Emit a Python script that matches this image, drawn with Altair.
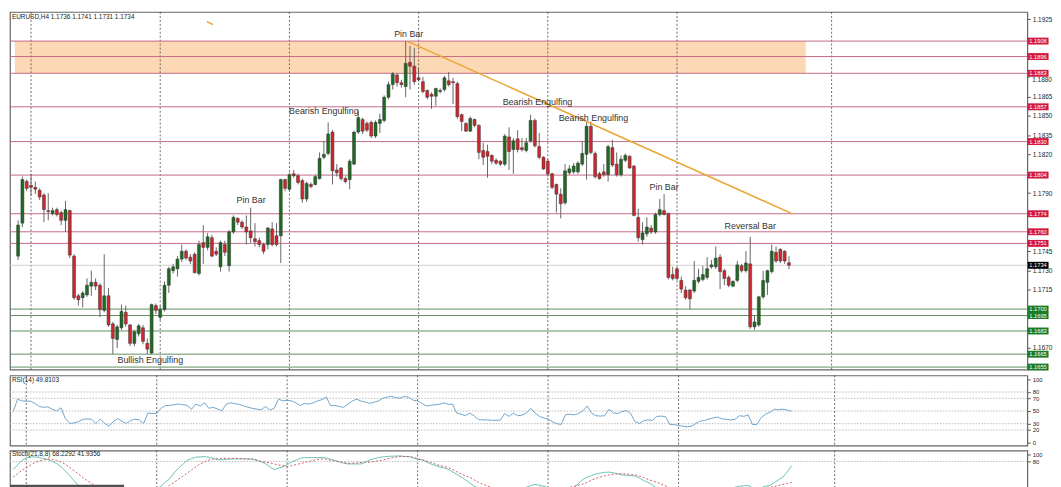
import altair as alt
import pandas as pd

# ---------------- data ----------------
opens = [1.17411,1.17667,1.17990,1.17960,1.17945,1.17922,1.17885,1.17764,1.17742,1.17772,
1.17749,1.17689,1.17764,1.17411,1.17103,1.17088,1.17110,1.17178,1.17208,1.17185,
1.16990,1.17103,1.16885,1.16764,1.16855,1.16975,1.16877,1.16734,1.16809,1.16855,
1.16734,1.16659,1.17027,1.16937,1.16997,1.17185,1.17298,1.17313,1.17388,1.17449,
1.17403,1.17426,1.17276,1.17516,1.17479,1.17554,1.17449,1.17328,1.17501,1.17336,
1.17599,1.17704,1.17674,1.17637,1.17607,1.17546,1.17531,1.17501,1.17501,1.17622,
1.17569,1.17569,1.18005,1.17930,1.18050,1.18035,1.17998,1.17855,1.17967,1.17967,
1.18013,1.18178,1.18208,1.18374,1.18080,1.18095,1.18013,1.18005,1.18125,1.18374,
1.18471,1.18441,1.18449,1.18343,1.18441,1.18464,1.18644,1.18742,1.18817,1.18757,
1.18727,1.18915,1.18885,1.18795,1.18765,1.18697,1.18667,1.18652,1.18689,1.18704,
1.18772,1.18765,1.18750,1.18509,1.18441,1.18381,1.18471,1.18426,1.18231,1.18223,
1.18193,1.18155,1.18148,1.18125,1.18336,1.18238,1.18321,1.18253,1.18231,1.18306,
1.18464,1.18261,1.18178,1.18148,1.18050,1.17967,1.17892,1.17825,1.18058,1.18065,
1.18065,1.18125,1.18201,1.18419,1.18208,1.18050,1.18065,1.18043,1.18253,1.18125,
1.18043,1.18155,1.18186,1.18110,1.17712,1.17539,1.17584,1.17629,1.17599,1.17734,
1.17764,1.17742,1.17268,1.17313,1.17223,1.17148,1.17148,1.17140,1.17215,1.17230,
1.17246,1.17328,1.17328,1.17403,1.17298,1.17246,1.17178,1.17223,1.17336,1.17298,
1.17351,1.16862,1.16877,1.17095,1.17208,1.17291,1.17441,1.17464,1.17449,1.17360]

highs = [1.17689,1.18028,1.18005,1.18050,1.17990,1.17937,1.17900,1.17900,1.17787,1.17787,
1.17764,1.17840,1.17772,1.17426,1.17118,1.17140,1.17238,1.17298,1.17238,1.17200,
1.17426,1.17163,1.16900,1.16877,1.17035,1.17027,1.16885,1.16839,1.16885,1.16877,
1.16772,1.17043,1.17043,1.17027,1.17215,1.17328,1.17351,1.17411,1.17501,1.17464,
1.17426,1.17441,1.17531,1.17652,1.17591,1.17576,1.17479,1.17531,1.17531,1.17614,
1.17727,1.17712,1.17689,1.17727,1.17787,1.17667,1.17554,1.17516,1.17637,1.17674,
1.17667,1.18013,1.18013,1.18058,1.18080,1.18050,1.18013,1.17990,1.17983,1.18043,
1.18216,1.18306,1.18449,1.18389,1.18125,1.18103,1.18028,1.18163,1.18381,1.18539,
1.18486,1.18456,1.18464,1.18464,1.18516,1.18659,1.18765,1.18840,1.18832,1.18780,
1.19080,1.19043,1.19028,1.18870,1.18802,1.18704,1.18682,1.18719,1.18712,1.18810,
1.18840,1.18795,1.18765,1.18516,1.18449,1.18494,1.18479,1.18434,1.18291,1.18276,
1.18201,1.18170,1.18155,1.18359,1.18411,1.18328,1.18389,1.18328,1.18328,1.18509,
1.18479,1.18366,1.18186,1.18163,1.18058,1.17975,1.17937,1.18125,1.18118,1.18133,
1.18148,1.18306,1.18449,1.18456,1.18223,1.18065,1.18125,1.18276,1.18313,1.18216,
1.18193,1.18208,1.18193,1.18118,1.17779,1.17674,1.17712,1.17652,1.17749,1.17855,
1.17892,1.17749,1.17328,1.17328,1.17253,1.17178,1.17155,1.17373,1.17313,1.17336,
1.17403,1.17381,1.17486,1.17426,1.17313,1.17261,1.17223,1.17373,1.17351,1.17449,
1.17561,1.16952,1.17103,1.17298,1.17306,1.17501,1.17486,1.17471,1.17456,1.17410]

lows = [1.17381,1.17637,1.17915,1.17877,1.17892,1.17847,1.17674,1.17689,1.17727,1.17719,
1.17652,1.17599,1.17396,1.17073,1.17027,1.17012,1.17095,1.17103,1.17148,1.16937,
1.16975,1.16862,1.16651,1.16697,1.16839,1.16862,1.16712,1.16712,1.16787,1.16727,
1.16651,1.16651,1.16960,1.16915,1.16982,1.17125,1.17276,1.17253,1.17366,1.17381,
1.17351,1.17276,1.17261,1.17351,1.17456,1.17403,1.17411,1.17291,1.17411,1.17291,
1.17584,1.17652,1.17622,1.17501,1.17516,1.17486,1.17479,1.17426,1.17464,1.17486,
1.17486,1.17358,1.17915,1.17915,1.18020,1.17967,1.17825,1.17832,1.17937,1.17960,
1.18005,1.18163,1.18193,1.17967,1.18028,1.17998,1.17975,1.17930,1.18118,1.18359,
1.18359,1.18374,1.18328,1.18328,1.18366,1.18449,1.18629,1.18704,1.18727,1.18719,
1.18644,1.18704,1.18742,1.18765,1.18674,1.18629,1.18554,1.18577,1.18674,1.18689,
1.18727,1.18592,1.18479,1.18381,1.18374,1.18374,1.18411,1.18163,1.18118,1.18020,
1.18125,1.18118,1.18110,1.18110,1.18080,1.18050,1.18216,1.18223,1.18216,1.18291,
1.18253,1.18163,1.18080,1.18028,1.17930,1.17749,1.17704,1.17810,1.18043,1.18050,
1.18050,1.18110,1.18005,1.18201,1.18013,1.18005,1.18028,1.17990,1.18103,1.18028,
1.18028,1.18140,1.18088,1.17719,1.17524,1.17501,1.17561,1.17584,1.17584,1.17719,
1.17727,1.17230,1.17223,1.17223,1.17125,1.17073,1.16997,1.17125,1.17200,1.17215,
1.17230,1.17313,1.17313,1.17155,1.17185,1.17170,1.17170,1.17208,1.17283,1.17283,
1.16847,1.16839,1.16862,1.17080,1.17110,1.17276,1.17358,1.17358,1.17351,1.17310]

closes = [1.17652,1.18005,1.17937,1.17945,1.17930,1.17870,1.17772,1.17757,1.17764,1.17734,
1.17689,1.17772,1.17419,1.17088,1.17073,1.17125,1.17185,1.17208,1.17178,1.16997,
1.17103,1.16877,1.16772,1.16862,1.16982,1.16885,1.16734,1.16824,1.16870,1.16749,
1.16689,1.17035,1.16990,1.16997,1.17185,1.17313,1.17328,1.17388,1.17449,1.17396,
1.17373,1.17283,1.17501,1.17479,1.17561,1.17411,1.17426,1.17516,1.17441,1.17599,
1.17712,1.17674,1.17637,1.17599,1.17554,1.17524,1.17501,1.17449,1.17629,1.17501,
1.17501,1.18005,1.17937,1.18043,1.18035,1.17983,1.17855,1.17975,1.17952,1.18028,
1.18170,1.18201,1.18359,1.18073,1.18058,1.18013,1.17990,1.18148,1.18374,1.18486,
1.18381,1.18389,1.18343,1.18449,1.18471,1.18644,1.18742,1.18825,1.18757,1.18742,
1.18907,1.18885,1.18765,1.18780,1.18689,1.18644,1.18652,1.18712,1.18697,1.18795,
1.18742,1.18757,1.18494,1.18456,1.18381,1.18479,1.18426,1.18216,1.18178,1.18186,
1.18148,1.18133,1.18125,1.18343,1.18223,1.18306,1.18238,1.18238,1.18291,1.18464,
1.18268,1.18178,1.18088,1.18050,1.17945,1.17892,1.17817,1.18073,1.18088,1.18110,
1.18133,1.18208,1.18419,1.18216,1.18028,1.18013,1.18043,1.18261,1.18118,1.18043,
1.18163,1.18193,1.18095,1.17727,1.17554,1.17591,1.17637,1.17599,1.17734,1.17772,
1.17734,1.17246,1.17238,1.17238,1.17155,1.17088,1.17080,1.17223,1.17246,1.17268,
1.17313,1.17343,1.17396,1.17291,1.17238,1.17185,1.17215,1.17343,1.17298,1.17358,
1.16862,1.16900,1.17095,1.17223,1.17298,1.17449,1.17373,1.17373,1.17373,1.17340]

rsi = [49,68.7,66,65.5,65.6,62,57,56,56.5,52.8,
50,55,38,30.3,31.3,33,37,37.4,37,30.3,
37,31,26,33,38,34,30.3,35,37,36,
30.3,46.7,46,46,54.3,58.5,59,60,61,60,
59,52.8,61,58,63,54.3,55.9,53,50.3,61,
63,61.5,60.5,58,56,54.3,53,51.8,57,51.8,
54,68.7,66,67,66,63,58.5,62,61,63,
66,68,72,58.5,59,57,55.9,61,66,68.7,
65.6,64,62,64,66,70,72,73.3,71,70.5,
73.3,71.3,67,66,62,58,59,60,60.5,63,
60.5,61,46.7,45,42.6,46.7,42.6,36.4,36,35.9,
35.5,35.4,35.4,46,41.5,46.7,42.6,43.5,46.7,54.3,
46.7,41.5,39,37.4,33,30,28.7,44,45,44,
46,50.3,58,46.7,42.6,42,42.6,52.8,47,46,
49.2,50.8,46,33,30.3,34.7,36,35,41.5,42,
41,28.7,28.5,27.2,26,25,26,30.3,34,35,
37.5,39,40.5,37.4,37,35.9,37,42.6,41.5,44,
28.7,28.7,39.6,45,48,52.8,52,52.8,51.5,49.8]

stoch_main = [57,70,83,90,93,93,91,88,85,80,
74,65,53,40,26,12,4,1,1,1,
1,1,1,1,1,1,1,1,1,1,
1,1,1,2,10,22,31,48,61,72,
83,88,92,93,94,92,89,85,85,86,
87,87,87,87,87,87,84,79,74,65,
57,61,65,71,78,84,89,91,91,91,
91,91,90,86,83,79,75,73,73,73,
73,78,84,88,91,93,94,95,95,96,
94,94,90,86,85,79,73,69,65,62,
58,51,44,36,28,19,10,5,1,1,
1,1,1,1,1,1,1,4,7,12,
15,13,10,6,3,1,1,1,1,5,
18,29,36,40,45,47,49,50,48,45,
42,41,40,39,33,26,21,13,4,1,
1,1,1,1,1,1,1,1,1,1,
1,1,1,1,1,4,7,10,11,12,
6,2,6,10,12,20,28,36,50,68.2]

stoch_signal = [36,45,55,62,70,77,81,85,87,86,
83,79,72,63,54,45,35,26,18,10,
4,1,1,1,1,1,1,1,1,1,
1,1,1,1,1.5,4,13,21,30,38,
47,56,65,73,79,84,87,88,89,89,
89,89,88,88,87,86,83,80,78,76,
73,70,68,66,68,71,74,77,80,83,
86,87,86,84,81,79,77,75,75,76,
77,78,78,80,82,84,87,90,92,94,
94,94,92,88,85,81,77,73,69,66,
63,57,51,45,39,35,28,21,15,11,
6,3,1,1,1,1,1,1,1,1,
4,7,7,6,6,5,5,5,7,10,
13,16,21,27,32,36,39,42,44,45,
45,45,43,42,39,34,29,25,21,16,
11,5,2,1,1,1,1,1,1,1,
1,1,1,1,1,1,1,2,2,3,
4,5,5,6,7,9,12,15,18,21]

red_levels = [1.1908, 1.1896, 1.1883, 1.1857, 1.1830, 1.1804, 1.1774, 1.1760, 1.1751]
green_levels = [1.1700, 1.1695, 1.1683, 1.1665, 1.1655]
current_price = 1.1734
# axis labels that are not hidden behind the level boxes in the reference
price_ticks = [1.1670, 1.1715, 1.1730, 1.1745, 1.1790, 1.1820, 1.1835, 1.1850, 1.1865, 1.1925]
# a label that sits just under a level box
tight_tick = 1.1880
zone_low, zone_high, zone_end_bar = 1.1883, 1.1908, 182.9
grid_bars = [3, 33, 63, 93, 123, 153, 188.9]
trend_bars = [90.3, 179.7]
trend_prices = [1.19080, 1.17741]
dash_bars = [43.8, 45.3]
dash_prices = [1.19231, 1.19208]

notes = ["Pin Bar", "Bearish Engulfing", "Bearish Engulfing", "Bearish Engulfing",
         "Pin Bar", "Pin Bar", "Reversal Bar", "Bullish Engulfing"]
note_bars = [90.7, 71.0, 120.6, 133.6, 54.1, 150.0, 170.0, 30.7]
note_prices = [1.19133, 1.18539, 1.18607, 1.18486, 1.17847, 1.17945, 1.17644, 1.16606]

header = "EURUSD,H4  1.1736 1.1741 1.1731 1.1734"
rsi_label = "RSI(14) 49.8103"
stoch_label = "Stoch(21,8,8) 68.2292 41.9356"
rsi_ticks = [0, 20, 30, 50, 70, 80, 100]
rsi_grid = [20, 30, 50, 70, 80]
stoch_ticks = [80, 100]
stoch_grid = [80]
logo_bar_end, logo_low, logo_high = 25.5, 2, 14

# ---------------- layout ----------------
W = 1030
H_MAIN, H_RSI, H_STO = 362, 71, 39
X_DOMAIN = [-0.74, 233.2]
P_DOMAIN = [1.16531, 1.19306]
R_DOMAIN = [-4.6, 106.2]
S_DOMAIN = [2, 111]
FONT = "Liberation Sans"

n = len(opens)
df = pd.DataFrame({"i": list(range(n)), "o": opens, "h": highs, "l": lows, "c": closes})
up_df = df[df["c"] >= df["o"]]
down_df = df[df["c"] < df["o"]]

xsc = alt.Scale(domain=X_DOMAIN, nice=False, zero=False)
psc = alt.Scale(domain=P_DOMAIN, nice=False, zero=False)
rsc = alt.Scale(domain=R_DOMAIN, nice=False, zero=False)
ssc = alt.Scale(domain=S_DOMAIN, nice=False, zero=False)

p_axis = alt.Axis(orient="right", values=price_ticks, format=".4f", title=None, labelOverlap=False)
r_axis = alt.Axis(orient="right", values=rsi_ticks, format="d", title=None, labelOverlap=False,
                  labelFontSize=6)
s_axis = alt.Axis(orient="right", values=stoch_ticks, format="d", title=None, labelOverlap=False,
                  labelFontSize=6)


def X(f):
    return alt.X(f, type="quantitative", scale=xsc, axis=None)


def PY(f):
    return alt.Y(f, type="quantitative", scale=psc, axis=p_axis)


def RY(f):
    return alt.Y(f, type="quantitative", scale=rsc, axis=r_axis)


def SY(f):
    return alt.Y(f, type="quantitative", scale=ssc, axis=s_axis)


grid_df = pd.DataFrame({"g": grid_bars})

# main panel
zone = alt.Chart(pd.DataFrame({"x1": [X_DOMAIN[0]], "x2": [zone_end_bar],
                               "y1": [zone_low], "y2": [zone_high]})).mark_rect(
    color="#fdd8b5").encode(x=X("x1"), x2="x2", y=PY("y1"), y2="y2")

vgrid = alt.Chart(grid_df).mark_rule(color="#444444", strokeDash=[2, 2], strokeWidth=0.8).encode(x=X("g"))

cur_line = alt.Chart(pd.DataFrame({"p": [current_price]})).mark_rule(
    color="#d0d0d0", strokeWidth=1).encode(y=PY("p"))
red_lines = alt.Chart(pd.DataFrame({"p": red_levels})).mark_rule(
    color="#c56a85", strokeWidth=1).encode(y=PY("p"))
green_lines = alt.Chart(pd.DataFrame({"p": green_levels})).mark_rule(
    color="#5f8f5f", strokeWidth=1).encode(y=PY("p"))

wicks = alt.Chart(df).mark_rule(color="#666666", strokeWidth=1).encode(
    x=X("i"), y=PY("l"), y2="h")
up_bodies = alt.Chart(up_df).mark_bar(size=3, color="#1e6b22", stroke="#333333", strokeWidth=0.5).encode(
    x=X("i"), y=PY("o"), y2="c")
down_bodies = alt.Chart(down_df).mark_bar(size=3, color="#d0262e", stroke="#333333", strokeWidth=0.5).encode(
    x=X("i"), y=PY("o"), y2="c")

trend_df = pd.DataFrame({"b": trend_bars + dash_bars, "p": trend_prices + dash_prices,
                         "seg": ["t", "t", "d", "d"]})
trend = alt.Chart(trend_df).mark_line(color="#e9a632", strokeWidth=1.5).encode(
    x=X("b"), y=PY("p"), detail="seg:N")

notes_df = pd.DataFrame({"b": note_bars, "p": note_prices, "t": notes})
note_text = alt.Chart(notes_df).mark_text(font=FONT, fontSize=9, color="#333333",
                                          baseline="middle", align="center").encode(
    x=X("b"), y=PY("p"), text="t:N")

head_text = alt.Chart(pd.DataFrame({"t": [header]})).mark_text(
    font=FONT, fontSize=6.5, color="#222222", align="left", baseline="middle").encode(
    x=alt.value(2), y=alt.value(5), text="t:N")

tight_df = pd.DataFrame({"p": [tight_tick], "lab": [f"{tight_tick:.4f}"]})
tight_txt = alt.Chart(tight_df).mark_text(font=FONT, fontSize=6.5, color="#222222",
                                          align="left", baseline="middle", dy=2.5).encode(
    x=alt.value(W + 5), y=PY("p"), text="lab:N")
tight_tk = alt.Chart(tight_df).mark_tick(orient="horizontal", size=3, thickness=1, color="#555555").encode(
    x=alt.value(W + 1.5), y=PY("p"))


def level_boxes(values, fill):
    d = pd.DataFrame({"p": values, "lab": [f"{v:.4f}" for v in values]})
    box = alt.Chart(d).mark_tick(orient="horizontal", size=21, thickness=7, opacity=1, color=fill).encode(
        x=alt.value(W + 11), y=PY("p"))
    txt = alt.Chart(d).mark_text(font=FONT, fontSize=5.8, color="white",
                                 align="left", baseline="middle").encode(
        x=alt.value(W + 2), y=PY("p"), text="lab:N")
    return [box, txt]


boxes = (level_boxes(red_levels, "#d01a3e") + level_boxes(green_levels, "#1b7a24")
         + level_boxes([current_price], "#000000"))

main = alt.layer(zone, vgrid, cur_line, red_lines, green_lines, wicks, up_bodies, down_bodies, trend,
                 note_text, head_text, tight_tk, tight_txt, *boxes).properties(width=W, height=H_MAIN)

# RSI panel
rsi_df = pd.DataFrame({"i": list(range(n)), "v": rsi})
r_grid = alt.Chart(pd.DataFrame({"v": rsi_grid})).mark_rule(
    color="#bbbbbb", strokeDash=[1.5, 1.5], strokeWidth=1).encode(y=RY("v"))
r_line = alt.Chart(rsi_df).mark_line(color="#6fa6cb", strokeWidth=1).encode(x=X("i"), y=RY("v"))
r_txt = alt.Chart(pd.DataFrame({"t": [rsi_label]})).mark_text(
    font=FONT, fontSize=6.5, color="#222222", align="left", baseline="middle").encode(
    x=alt.value(2), y=alt.value(5), text="t:N")
rsi_panel = alt.layer(r_grid, vgrid, r_line, r_txt).properties(width=W, height=H_RSI)

# Stochastic panel
sto_df = pd.DataFrame({"i": list(range(n)), "m": stoch_main, "s": stoch_signal})
s_grid = alt.Chart(pd.DataFrame({"v": stoch_grid})).mark_rule(
    color="#bbbbbb", strokeDash=[1.5, 1.5], strokeWidth=1).encode(y=SY("v"))
s_main = alt.Chart(sto_df).mark_line(color="#6cc3b6", strokeWidth=1, clip=True).encode(
    x=X("i"), y=SY("m"))
s_sig = alt.Chart(sto_df).mark_line(color="#d05a5a", strokeWidth=1, strokeDash=[2, 2], clip=True).encode(
    x=X("i"), y=SY("s"))
logo = alt.Chart(pd.DataFrame({"x1": [X_DOMAIN[0]], "x2": [logo_bar_end],
                               "y1": [logo_low], "y2": [logo_high]})).mark_rect(
    color="#505050", clip=True).encode(x=X("x1"), x2="x2", y=SY("y1"), y2="y2")
s_txt = alt.Chart(pd.DataFrame({"t": [stoch_label]})).mark_text(
    font=FONT, fontSize=6.5, color="#222222", align="left", baseline="middle").encode(
    x=alt.value(2), y=alt.value(4), text="t:N")
sto_panel = alt.layer(s_grid, vgrid, s_main, s_sig, logo, s_txt).properties(width=W, height=H_STO)

chart = alt.vconcat(main, rsi_panel, sto_panel, spacing=3).properties(
    padding=0, background="white"
).configure_view(stroke="#666666", strokeWidth=1.2).configure_axis(
    labelFont=FONT, labelFontSize=6.5, labelColor="#222222", tickColor="#555555",
    tickSize=3, domain=False, grid=False, labelPadding=2
)

chart.save("out.html", embed_options={"renderer": "svg", "actions": False})
